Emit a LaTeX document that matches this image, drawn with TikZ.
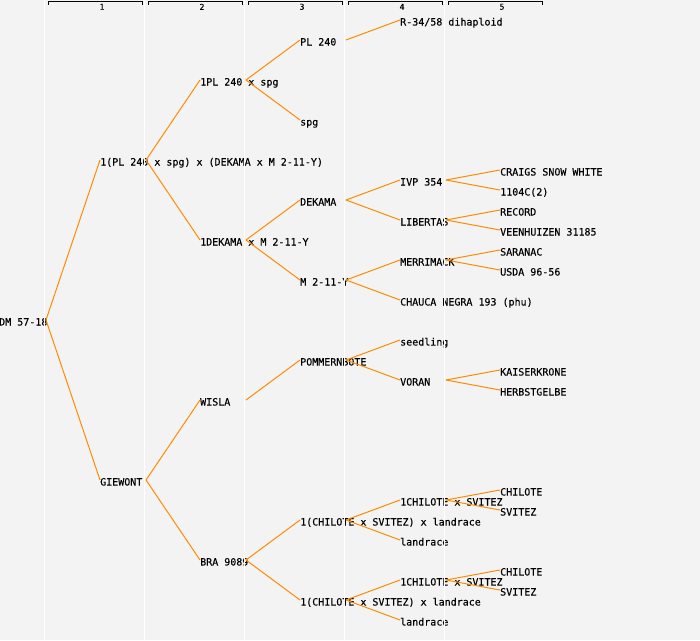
\documentclass[tikz,border=0pt]{standalone}
\usepackage{fontspec}
\newfontfamily\pixfont[FakeBold=0.15]{DejaVu Sans Mono}
\newfontfamily\hdrfont[FakeBold=0.15]{DejaVu Sans Mono}
\definecolor{bgcol}{RGB}{243,243,243}
\definecolor{lineorange}{RGB}{255,140,0}
\newcommand\edgeto[2]{\draw[edge] ([xshift=46pt]#1.west) -- (#2.west);}
\begin{document}
\begin{tikzpicture}[x=1pt,y=-1pt,
  lbl/.style={anchor=west, inner sep=0pt, text height=11pt, text depth=0pt,
    font=\pixfont\fontsize{10}{10}\selectfont},
  hdr/.style={inner sep=0pt, font=\hdrfont\fontsize{8}{8}\selectfont},
  edge/.style={draw=lineorange, line width=1pt},
  colrule/.style={draw=white, line width=1pt},
  bracket/.style={draw=black, line width=1pt}]
\useasboundingbox (0,0) rectangle (700,640);
\fill[bgcol] (0,0) rectangle (700,640);
% header brackets
\foreach \k in {1,...,5} {
  \draw[bracket] (100*\k-52,4.5) -- (100*\k-52,1.5) -- (100*\k+42,1.5) -- (100*\k+42,4.5);
  \node[hdr] (h\k) at (100*\k+2,6.8) {\k};
}
% nodes
\node[lbl] (root) at (-1,320) {DM 57-18};
\node[lbl] (a) at (100,160) {1(PL 240 x spg) x (DEKAMA x M 2-11-Y)};
\node[lbl] (aa) at (200,80) {1PL 240 x spg};
\node[lbl] (aaa) at (300,40) {PL 240};
\node[lbl] (aaaa) at (400,20) {R-34/58 dihaploid};
\node[lbl] (aab) at (300,120) {spg};
\node[lbl] (ab) at (200,240) {1DEKAMA x M 2-11-Y};
\node[lbl] (aba) at (300,200) {DEKAMA};
\node[lbl] (abaa) at (400,180) {IVP 354};
\node[lbl] (abaaa) at (500,170) {CRAIGS SNOW WHITE};
\node[lbl] (abaab) at (500,190) {1104C(2)};
\node[lbl] (abab) at (400,220) {LIBERTAS};
\node[lbl] (ababa) at (500,210) {RECORD};
\node[lbl] (ababb) at (500,230) {VEENHUIZEN 31185};
\node[lbl] (abb) at (300,280) {M 2-11-Y};
\node[lbl] (abba) at (400,260) {MERRIMACK};
\node[lbl] (abbaa) at (500,250) {SARANAC};
\node[lbl] (abbab) at (500,270) {USDA 96-56};
\node[lbl] (abbb) at (400,300) {CHAUCA NEGRA 193 (phu)};
\node[lbl] (b) at (100,480) {GIEWONT};
\node[lbl] (ba) at (200,400) {WISLA};
\node[lbl] (baa) at (300,360) {POMMERNBOTE};
\node[lbl] (baaa) at (400,340) {seedling};
\node[lbl] (baab) at (400,380) {VORAN};
\node[lbl] (baaba) at (500,370) {KAISERKRONE};
\node[lbl] (baabb) at (500,390) {HERBSTGELBE};
\node[lbl] (bb) at (200,560) {BRA 9089};
\node[lbl] (bba) at (300,520) {1(CHILOTE x SVITEZ) x landrace};
\node[lbl] (bbaa) at (400,500) {1CHILOTE x SVITEZ};
\node[lbl] (bbaaa) at (500,490) {CHILOTE};
\node[lbl] (bbaab) at (500,510) {SVITEZ};
\node[lbl] (bbab) at (400,540) {landrace};
\node[lbl] (bbb) at (300,600) {1(CHILOTE x SVITEZ) x landrace};
\node[lbl] (bbba) at (400,580) {1CHILOTE x SVITEZ};
\node[lbl] (bbbaa) at (500,570) {CHILOTE};
\node[lbl] (bbbab) at (500,590) {SVITEZ};
\node[lbl] (bbbb) at (400,620) {landrace};
% column rules (drawn over text)
\foreach \j in {0,...,4} {
  \draw[colrule] (44.5+100*\j,0) -- (44.5+100*\j,640);
}
% connectors
\draw[edge] ([xshift=47pt]root.west) -- (a.west);
\draw[edge] ([xshift=47pt]root.west) -- (b.west);
\edgeto{a}{aa}
\edgeto{a}{ab}
\edgeto{aa}{aaa}
\edgeto{aa}{aab}
\edgeto{aaa}{aaaa}
\edgeto{ab}{aba}
\edgeto{ab}{abb}
\edgeto{aba}{abaa}
\edgeto{aba}{abab}
\edgeto{abaa}{abaaa}
\edgeto{abaa}{abaab}
\edgeto{abab}{ababa}
\edgeto{abab}{ababb}
\edgeto{abb}{abba}
\edgeto{abb}{abbb}
\edgeto{abba}{abbaa}
\edgeto{abba}{abbab}
\edgeto{b}{ba}
\edgeto{b}{bb}
\edgeto{ba}{baa}
\edgeto{baa}{baaa}
\edgeto{baa}{baab}
\edgeto{baab}{baaba}
\edgeto{baab}{baabb}
\edgeto{bb}{bba}
\edgeto{bb}{bbb}
\edgeto{bba}{bbaa}
\edgeto{bba}{bbab}
\edgeto{bbaa}{bbaaa}
\edgeto{bbaa}{bbaab}
\edgeto{bbb}{bbba}
\edgeto{bbb}{bbbb}
\edgeto{bbba}{bbbaa}
\edgeto{bbba}{bbbab}
\end{tikzpicture}
\end{document}
